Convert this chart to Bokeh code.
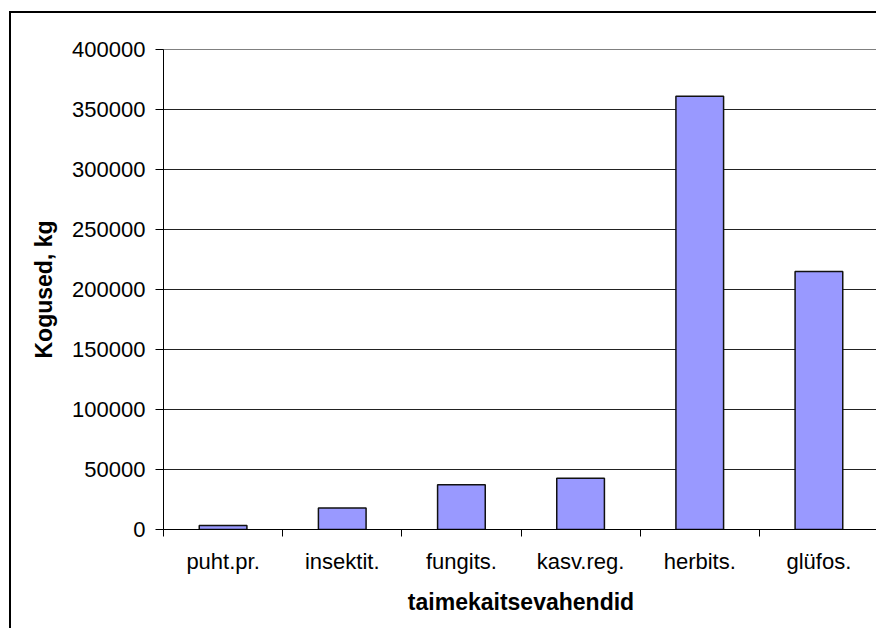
from bokeh.plotting import figure
from bokeh.models import Range1d, LinearAxis, FixedTicker, ColumnDataSource, NumeralTickFormatter
from bokeh.embed import file_html
from bokeh.resources import INLINE

categories = ["puht.pr.", "insektit.", "fungits.", "kasv.reg.", "herbits.", "glüfos."]
values = [3300, 18000, 37200, 42700, 361000, 215000]
y_ticks = [0, 50000, 100000, 150000, 200000, 250000, 300000, 350000, 400000]
x_title = "taimekaitsevahendid"
y_title = "Kogused, kg"

FONT = "Liberation Sans"
n = len(categories)
centers = [i + 0.5 for i in range(n)]

p = figure(width=867, height=617, output_backend="svg", toolbar_location=None,
           x_range=Range1d(0, n), y_range=Range1d(0, 400000),
           x_axis_location=None, y_axis_location=None,
           min_border_left=152, min_border_top=36, min_border_right=0, min_border_bottom=101)
p.styles = {"border-left": "2px solid black", "border-top": "2px solid black",
            "margin-left": "9px", "margin-top": "11px"}
p.background_fill_color = "white"
p.border_fill_color = "white"
p.outline_line_color = "#808080"
p.outline_line_width = 1

src = ColumnDataSource(dict(x=centers, cat=categories, val=values))
p.vbar(x="x", top="val", width=0.4, source=src, fill_color="#9999FF",
       line_color="#111111", line_width=1.5)

# y axis
yax = LinearAxis(ticker=FixedTicker(ticks=y_ticks))
yax.formatter = NumeralTickFormatter(format="0")
yax.major_label_text_font = FONT
yax.major_label_text_font_size = "22px"
yax.major_label_text_color = "black"
yax.major_tick_out = 8
yax.major_tick_in = 0
yax.minor_tick_line_color = None
yax.major_label_standoff = 10
yax.axis_line_color = "black"
yax.axis_label = y_title
yax.axis_label_text_font = FONT
yax.axis_label_text_font_style = "bold"
yax.axis_label_text_font_size = "23px"
yax.axis_label_text_color = "black"
yax.axis_label_standoff = 12
p.add_layout(yax, "left")

p.ygrid.ticker = FixedTicker(ticks=y_ticks[:-1])
p.ygrid.grid_line_color = "#222222"
p.ygrid.grid_line_width = 1
p.xgrid.grid_line_color = None

# x axis: labels at category centres, ticks at category boundaries
xax = LinearAxis(ticker=FixedTicker(ticks=centers, minor_ticks=list(range(n + 1))))
xax.major_label_overrides = {c: lab for c, lab in zip(centers, categories)}
xax.major_label_text_font = FONT
xax.major_label_text_font_size = "22px"
xax.major_label_text_color = "black"
xax.major_tick_out = 0
xax.major_tick_in = 0
xax.minor_tick_out = 7
xax.minor_tick_in = 0
xax.minor_tick_line_color = "black"
xax.major_label_standoff = 12
xax.axis_line_color = "black"
xax.axis_label = x_title
xax.axis_label_text_font = FONT
xax.axis_label_text_font_style = "bold"
xax.axis_label_text_font_size = "23px"
xax.axis_label_text_color = "black"
xax.axis_label_standoff = 12
p.add_layout(xax, "below")

open("out.html", "w").write(file_html(p, INLINE))
